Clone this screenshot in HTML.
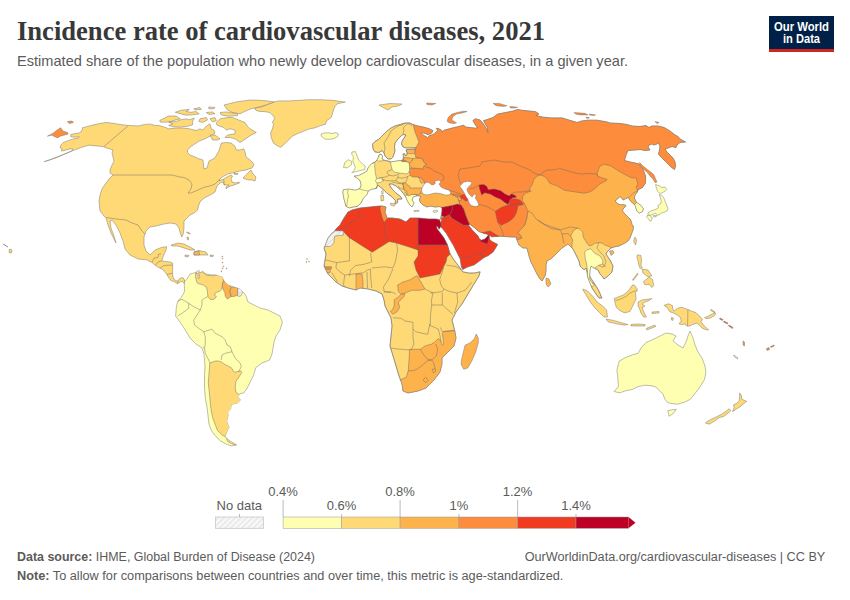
<!DOCTYPE html>
<html><head><meta charset="utf-8"><title>Incidence rate of cardiovascular diseases, 2021</title>
<style>
html,body{margin:0;padding:0;background:#fff;}
body{width:850px;height:600px;overflow:hidden;}
svg{display:block;}
.t{font-family:"Liberation Serif",serif;font-weight:bold;font-size:27px;fill:#383838;}
.st{font-family:"Liberation Sans",sans-serif;font-size:15px;fill:#5b5b5b;}
.lg{font-family:"Liberation Sans",sans-serif;font-size:13px;fill:#5b5b5b;}
.ft{font-family:"Liberation Sans",sans-serif;font-size:12.5px;fill:#5b5b5b;}
.ft b, .ft .b{font-weight:bold;}
.logo{font-family:"Liberation Sans",sans-serif;font-weight:bold;font-size:12px;fill:#fff;}
</style></head>
<body>
<svg width="850" height="600" viewBox="0 0 850 600">
<defs><pattern id="hatch2" width="4" height="4" patternUnits="userSpaceOnUse" patternTransform="rotate(45)"><rect width="4" height="4" fill="#f7f7f7"/><line x1="0" y1="0" x2="0" y2="4" stroke="#d4d4d4" stroke-width="1.2"/></pattern></defs>
<rect width="850" height="600" fill="#fff"/>
<text x="17" y="40.4" class="t" textLength="528" lengthAdjust="spacingAndGlyphs">Incidence rate of cardiovascular diseases, 2021</text>
<text x="17" y="66.2" class="st" textLength="611" lengthAdjust="spacingAndGlyphs">Estimated share of the population who newly develop cardiovascular diseases, in a given year.</text>
<rect x="769" y="16" width="65" height="36" fill="#002147"/>
<rect x="769" y="49" width="65" height="3" fill="#ce261e"/>
<text x="801.5" y="30.6" text-anchor="middle" class="logo" textLength="55" lengthAdjust="spacingAndGlyphs">Our World</text>
<text x="801.5" y="42.6" text-anchor="middle" class="logo" textLength="37" lengthAdjust="spacingAndGlyphs">in Data</text>
<g id="map">
<defs>
<clipPath id="cafe"><polygon points="353,207 349.4,207.9 345.9,206.2 344.7,201.5 343.5,196.8 342.9,192.1 343.5,189.7 349.4,189.1 355.3,190.3 360,188.5 361.2,185 360,180.3 357.6,178.5 354.1,176.2 358.8,175.6 363.5,173.2 367,171 368,168 370,165.5 372,163.5 375,162 377,160 378.5,157 379,155 381,154 382.5,156 382,159 385,160.5 388,161 391,162 397,161 401,160.5 403,160 403.5,157 403,154 404.5,153.5 405.5,155.5 407,155 407,152.5 406,150.2 407,149.5 411,149.3 416,149 416,147.8 410,147.8 406,148 403,147 401.5,144 402,141 404,138 406,135 403,134.5 401,136 398,139 395,143 394.5,147 395,151 394,154 393,157 391,159 388,159 385,156 384,153 382,150.5 379,152.5 375,152 373,149 372.5,144 375,141.5 379,139 383,135 387,131 391,128 395,126 400,124.5 405,123 410,123 413,124.5 417.6,125.9 423.5,127.1 429.4,128.8 432.9,130.6 431.8,132.9 428.2,134.7 425.3,133.5 421.2,132.4 421.8,134.1 424.7,135.9 427.6,137.6 430,135.3 432.9,134.7 435.3,132.9 437.6,130.6 436.5,128.2 438.8,128.8 441.2,130 441.8,131.8 444.7,130 449.4,128.8 454.1,127.6 458.8,126.5 463.5,125.3 465.9,127.1 470.6,127.6 475.3,128.2 477.6,127.6 475.3,124.7 472.9,120.6 475.3,118.8 480,120 482.4,122.4 484.7,125.9 487.1,130.6 488.2,132.9 487.1,127.1 483.5,120.6 485.9,120 489.4,118.8 492.9,117.6 494.6,116.4 497.6,114.1 505.3,112.6 512.9,111.1 517.5,109.5 522.1,110.3 529.8,111.1 535.9,111.8 538.9,114.1 535.9,115.6 543.5,117.2 551.2,117.9 557.3,117.9 561.9,117.9 569.5,120.2 577.2,122.5 581.7,121 587.9,120.2 597,120.2 606.2,121.8 610,123 620,123.5 627,124.5 632,126 640,126.5 646,125.5 649,127.5 652,126 658,126 664,127.5 670,131 675,135 678,136.5 680,139 685.5,142 680,142.5 677,145 676,147.5 672,146.5 668,148 665,149 667,152 670,155 673,158 675,162 675.5,166 674.5,169.5 671,167 667,163 663,159 660,156 658.5,154 659.5,150 660,146 658,142.5 657,144 654,145 652,144 649,145 648,147 650,150 645,150.5 640,149.5 635,150 628,150.5 626,155 624.5,160.5 630,162 635,163 639,164 642,168 644,172 645.5,176 645.5,181 645.5,183 642.5,187.5 638,189.8 637.3,192 635,195 634.3,198 635.8,201 636.5,202.5 641,205.5 643.3,208.5 642.5,211.5 639.5,213 637.3,211.5 635.8,207.8 635,204.8 632.8,203.3 630.5,201 629,198.8 628.3,197.3 626,198.5 623,200 622,198 620,196.5 617.5,199 615,201 618,204 621,205 623,204.5 626,205.5 625,207 623,209 622.5,211 624,213 626,215 628,217 630,219 631.5,222 632,225 633.5,226 633,230 631.5,234 630,238 628,241 625,243 622,244.5 619,246 616,246.5 614,247 611,248 610,249 607,252 606,254 610,260 613,266 612,272 608,276 604,279 602,276 600,274 598,270 594,268 591,266 590,270 589.6,276 592,280 596,286 599,291 601,296 602,298 599,298 596,294 592,288 589.6,282 588,278 587,272 586,268 584,270 580,266 579,261 576,255 573,249 572,248 570,246 568,244 565,246 562,248 559,251 556,254 552,258 547,261 546,265 546,271 545,276 542,281 540,279 537,274 534,268 531,262 529,256 528,252 527,248 523,248 519,245 517,240 516,237 512,237 509.3,236.8 500,236.2 491.8,236.8 488.3,234.5 483.6,233.3 479,231.6 474.3,227.5 469.6,224 468.5,225.2 472,229.8 476.6,234.5 478,236 479,238.5 481.3,240.3 484.8,239.2 487.1,236.8 488.9,234.5 489.5,239.2 491.8,241.5 497.6,244.4 495.3,248.5 493,252 488.3,255.5 483.6,257.8 479,261.3 474.3,264.8 467.3,267.1 462.7,269.4 461.5,267.1 460.3,259 456.8,252 453.3,245 449.8,239.2 446.3,233.3 441.7,227.5 440.7,226.2 440,227.8 439,229.2 438.2,227 436.5,226 437,228.7 440.5,233.3 444,238 447.5,245 449.8,253.2 453.3,259 456.8,263.7 460.3,268.3 462.7,271.8 468.5,273 474.3,273 480.1,271.8 479,276 474,284 468,294 462,304 456,312 452,320 453,324 455,332 456,338 454,346 448,352 442,358 442,364 440,372 434,380 426,388 418,391 408,393 403,391 402,384 399,376 396,366 393,356 390,346 391,336 392,326 391,318 388,312 385,306 384,300 382,294 376,291 368,289 360,288 356,290 348,288 342,286 336,282 332,278 328,274 326,270 324,266 325,260 326,254 324,248 325,246 328,238 332,233 334,232 336,229 340,225 344,218 348,212 352,210 360,208 370,207 380,206 382,206 386,207 385,212 387,218 392,218 400,219 406,222 410,218 418,218 428,219 436,219 440,220 441,217 441.5,214 442,211 442,208 440,206.5 435,207 430,206 427,207 423,205 420,202 419.5,199 421,196.5 418,195.5 416,196 413,197 412,200 414,203 412,207 410,205 408,202 406.5,199 406,197 405,196 403,193 400,189.5 396,186 392,184 389,184 392,189 396,193 400,196 401.2,197.4 402,199 400,199.1 397.6,199.1 397.6,202.6 395.3,203.8 395.3,200.3 391.8,196.8 387.1,193.2 383.5,189.7 380.6,187.4 377.6,185 376.5,188.5 371.8,189.1 368.2,190.9 367.1,194.4 363.5,197.9 361.2,202.6 357.6,206.2"/></clipPath>
<clipPath id="cland"><polygon points="353,207 349.4,207.9 345.9,206.2 344.7,201.5 343.5,196.8 342.9,192.1 343.5,189.7 349.4,189.1 355.3,190.3 360,188.5 361.2,185 360,180.3 357.6,178.5 354.1,176.2 358.8,175.6 363.5,173.2 367,171 368,168 370,165.5 372,163.5 375,162 377,160 378.5,157 379,155 381,154 382.5,156 382,159 385,160.5 388,161 391,162 397,161 401,160.5 403,160 403.5,157 403,154 404.5,153.5 405.5,155.5 407,155 407,152.5 406,150.2 407,149.5 411,149.3 416,149 416,147.8 410,147.8 406,148 403,147 401.5,144 402,141 404,138 406,135 403,134.5 401,136 398,139 395,143 394.5,147 395,151 394,154 393,157 391,159 388,159 385,156 384,153 382,150.5 379,152.5 375,152 373,149 372.5,144 375,141.5 379,139 383,135 387,131 391,128 395,126 400,124.5 405,123 410,123 413,124.5 417.6,125.9 423.5,127.1 429.4,128.8 432.9,130.6 431.8,132.9 428.2,134.7 425.3,133.5 421.2,132.4 421.8,134.1 424.7,135.9 427.6,137.6 430,135.3 432.9,134.7 435.3,132.9 437.6,130.6 436.5,128.2 438.8,128.8 441.2,130 441.8,131.8 444.7,130 449.4,128.8 454.1,127.6 458.8,126.5 463.5,125.3 465.9,127.1 470.6,127.6 475.3,128.2 477.6,127.6 475.3,124.7 472.9,120.6 475.3,118.8 480,120 482.4,122.4 484.7,125.9 487.1,130.6 488.2,132.9 487.1,127.1 483.5,120.6 485.9,120 489.4,118.8 492.9,117.6 494.6,116.4 497.6,114.1 505.3,112.6 512.9,111.1 517.5,109.5 522.1,110.3 529.8,111.1 535.9,111.8 538.9,114.1 535.9,115.6 543.5,117.2 551.2,117.9 557.3,117.9 561.9,117.9 569.5,120.2 577.2,122.5 581.7,121 587.9,120.2 597,120.2 606.2,121.8 610,123 620,123.5 627,124.5 632,126 640,126.5 646,125.5 649,127.5 652,126 658,126 664,127.5 670,131 675,135 678,136.5 680,139 685.5,142 680,142.5 677,145 676,147.5 672,146.5 668,148 665,149 667,152 670,155 673,158 675,162 675.5,166 674.5,169.5 671,167 667,163 663,159 660,156 658.5,154 659.5,150 660,146 658,142.5 657,144 654,145 652,144 649,145 648,147 650,150 645,150.5 640,149.5 635,150 628,150.5 626,155 624.5,160.5 630,162 635,163 639,164 642,168 644,172 645.5,176 645.5,181 645.5,183 642.5,187.5 638,189.8 637.3,192 635,195 634.3,198 635.8,201 636.5,202.5 641,205.5 643.3,208.5 642.5,211.5 639.5,213 637.3,211.5 635.8,207.8 635,204.8 632.8,203.3 630.5,201 629,198.8 628.3,197.3 626,198.5 623,200 622,198 620,196.5 617.5,199 615,201 618,204 621,205 623,204.5 626,205.5 625,207 623,209 622.5,211 624,213 626,215 628,217 630,219 631.5,222 632,225 633.5,226 633,230 631.5,234 630,238 628,241 625,243 622,244.5 619,246 616,246.5 614,247 611,248 610,249 607,252 606,254 610,260 613,266 612,272 608,276 604,279 602,276 600,274 598,270 594,268 591,266 590,270 589.6,276 592,280 596,286 599,291 601,296 602,298 599,298 596,294 592,288 589.6,282 588,278 587,272 586,268 584,270 580,266 579,261 576,255 573,249 572,248 570,246 568,244 565,246 562,248 559,251 556,254 552,258 547,261 546,265 546,271 545,276 542,281 540,279 537,274 534,268 531,262 529,256 528,252 527,248 523,248 519,245 517,240 516,237 512,237 509.3,236.8 500,236.2 491.8,236.8 488.3,234.5 483.6,233.3 479,231.6 474.3,227.5 469.6,224 468.5,225.2 472,229.8 476.6,234.5 478,236 479,238.5 481.3,240.3 484.8,239.2 487.1,236.8 488.9,234.5 489.5,239.2 491.8,241.5 497.6,244.4 495.3,248.5 493,252 488.3,255.5 483.6,257.8 479,261.3 474.3,264.8 467.3,267.1 462.7,269.4 461.5,267.1 460.3,259 456.8,252 453.3,245 449.8,239.2 446.3,233.3 441.7,227.5 440.7,226.2 440,227.8 439,229.2 438.2,227 436.5,226 437,228.7 440.5,233.3 444,238 447.5,245 449.8,253.2 453.3,259 456.8,263.7 460.3,268.3 462.7,271.8 468.5,273 474.3,273 480.1,271.8 479,276 474,284 468,294 462,304 456,312 452,320 453,324 455,332 456,338 454,346 448,352 442,358 442,364 440,372 434,380 426,388 418,391 408,393 403,391 402,384 399,376 396,366 393,356 390,346 391,336 392,326 391,318 388,312 385,306 384,300 382,294 376,291 368,289 360,288 356,290 348,288 342,286 336,282 332,278 328,274 326,270 324,266 325,260 326,254 324,248 325,246 328,238 332,233 334,232 336,229 340,225 344,218 348,212 352,210 360,208 370,207 380,206 382,206 386,207 385,212 387,218 392,218 400,219 406,222 410,218 418,218 428,219 436,219 440,220 441,217 441.5,214 442,211 442,208 440,206.5 435,207 430,206 427,207 423,205 420,202 419.5,199 421,196.5 418,195.5 416,196 413,197 412,200 414,203 412,207 410,205 408,202 406.5,199 406,197 405,196 403,193 400,189.5 396,186 392,184 389,184 392,189 396,193 400,196 401.2,197.4 402,199 400,199.1 397.6,199.1 397.6,202.6 395.3,203.8 395.3,200.3 391.8,196.8 387.1,193.2 383.5,189.7 380.6,187.4 377.6,185 376.5,188.5 371.8,189.1 368.2,190.9 367.1,194.4 363.5,197.9 361.2,202.6 357.6,206.2"/><polygon points="44.2,161.6 50.6,159.5 61.2,155.3 71.8,151 72.8,148.9 69.7,148.9 64.4,150.5 61.2,151 62.2,148.9 60.1,147.8 60.7,145.2 63.3,142.5 68.6,140.4 73.9,138.8 78.1,138.3 79.2,136.7 75,137.2 70.7,136.7 70.7,134.6 75,133.5 79.2,133 80.8,132 82.4,129.3 82.4,127.7 86.6,126.7 93,125.1 99.3,123.5 106.7,122.4 114.2,123.5 120.5,124.5 128,125.4 138.2,125.9 146.5,124.2 151.4,124.2 154.7,125.5 158.8,125.5 164.6,127.1 168.7,128.8 176.1,128 182.7,128 189.3,128.8 196.3,130.6 200,128.8 202.5,130 206.3,126.3 210,123.8 211.3,128.8 213.8,130 215,133.1 211.3,135.6 205,138.8 198.8,141.3 191.3,146.3 187.5,150 187.5,152.5 190,155 195,156.9 198.8,158.8 203,160 204,169 207,168 209,161 215,158 217,154 218.8,151.3 220,147.5 221.3,143.1 226.3,142.5 231.3,143.1 235,146.3 236.3,150 240,150 243.8,148.8 245,152 246,157 250,160 253,163 254,165 252,168 246,170 240,171 234,172.5 228,174 222,177 219,180 222,180 227,177 231,175 232.5,176 231,179 232,182 236,183 239,182 239.5,183 234,185 228,187 226,189 226,187 229,185 224,185 223,182 220,183 217,186 215,192 212,194 208,196 204,198 200,202 198.5,206 197.5,210 194,213 190,215 184,221 184,227 183.5,233 181.8,237 180.5,234 179,228 176,224 170,223 164,224 156,226 150,227 146,231 144,237 144,245 146,251 150,255 155.2,250 161.7,247.3 166.6,246.7 166.1,250 164.5,253.3 162.8,257.6 161.7,260.9 165,261.4 170.4,262 172.6,263 172.6,272 172.7,276 174,279.3 176,280.7 178,281 179.3,278.7 181.3,277.7 183.3,278 184.3,279.7 184.7,281.3 184,283.3 182.3,281.7 180.7,281.3 179,283 177.3,283.7 175.3,282.3 173.3,281.3 171.3,280.7 170,279.7 167.2,275 165.5,272.8 162.8,269.6 158.5,267.4 155.2,265.2 152,262.5 146.5,259.8 138,259 130,255 125,249 123,241 120,233 116,225 112,220 110,221 111,228 114,236 116,243 115,241 111,233 108,225 106,218 104,216 100,211 99,201 100,195 102,189 106,183 109,179 113,175 110,173 110,170 112,165 114,161 113,157 112,153.1 113.1,150 109.9,148.9 105.7,147.8 103.6,146.8 99.3,146.2 94,145.7 88.7,145.2 80.3,147.8 70.7,151.5 64.4,154.2 55.9,157.9 46.4,161.1"/><polygon points="184.7,281.3 186.7,279.3 189.3,275.3 190,274 192.7,273.3 195.3,272.7 198,270.7 199.3,270.7 199,273 200,272.7 202.7,271.3 206,274 210,274.7 216,275 222,277 224,281 228,285 234,287 240,289 244,293 246,296 248,302 254,305 260,308 268,310 274,313 280,316 282.4,322 280,330 276,336 274,342 272,354 269.6,360 262,363 255.8,367.7 253.5,375.3 249.7,383 246.7,389 243.6,393 239.8,393.7 237.5,396.8 240.5,399.9 237.5,403 231.3,404.5 230.6,409 227.5,412 228.3,415 226.7,421 229,427.5 226.7,432 225.2,436.7 228.3,439.7 232.9,442.8 236.7,445 231.3,445.8 226.7,444.3 220.6,441 216,436.7 211.4,430.5 209,424.4 208.3,418.3 207.6,412 206.8,406 205.3,398.3 204.5,387.6 204.5,375.3 205,366 204,354 202,348 196,344 190,338 184,328 180,322 175.6,316 176.3,308 176.7,305.3 178,300.7 180,299.3 182,296 184,292.7 184.7,290 184.3,285.3"/></clipPath>
<clipPath id="csa"><polygon points="184.7,281.3 186.7,279.3 189.3,275.3 190,274 192.7,273.3 195.3,272.7 198,270.7 199.3,270.7 199,273 200,272.7 202.7,271.3 206,274 210,274.7 216,275 222,277 224,281 228,285 234,287 240,289 244,293 246,296 248,302 254,305 260,308 268,310 274,313 280,316 282.4,322 280,330 276,336 274,342 272,354 269.6,360 262,363 255.8,367.7 253.5,375.3 249.7,383 246.7,389 243.6,393 239.8,393.7 237.5,396.8 240.5,399.9 237.5,403 231.3,404.5 230.6,409 227.5,412 228.3,415 226.7,421 229,427.5 226.7,432 225.2,436.7 228.3,439.7 232.9,442.8 236.7,445 231.3,445.8 226.7,444.3 220.6,441 216,436.7 211.4,430.5 209,424.4 208.3,418.3 207.6,412 206.8,406 205.3,398.3 204.5,387.6 204.5,375.3 205,366 204,354 202,348 196,344 190,338 184,328 180,322 175.6,316 176.3,308 176.7,305.3 178,300.7 180,299.3 182,296 184,292.7 184.7,290 184.3,285.3"/></clipPath>
<pattern id="hatch" width="4" height="4" patternUnits="userSpaceOnUse" patternTransform="rotate(45)"><rect width="4" height="4" fill="#f2f2f2"/><line x1="0" y1="0" x2="0" y2="4" stroke="#d9d9d9" stroke-width="1.5"/></pattern>
</defs>
<polygon points="44.2,161.6 50.6,159.5 61.2,155.3 71.8,151 72.8,148.9 69.7,148.9 64.4,150.5 61.2,151 62.2,148.9 60.1,147.8 60.7,145.2 63.3,142.5 68.6,140.4 73.9,138.8 78.1,138.3 79.2,136.7 75,137.2 70.7,136.7 70.7,134.6 75,133.5 79.2,133 80.8,132 82.4,129.3 82.4,127.7 86.6,126.7 93,125.1 99.3,123.5 106.7,122.4 114.2,123.5 120.5,124.5 128,125.4 138.2,125.9 146.5,124.2 151.4,124.2 154.7,125.5 158.8,125.5 164.6,127.1 168.7,128.8 176.1,128 182.7,128 189.3,128.8 196.3,130.6 200,128.8 202.5,130 206.3,126.3 210,123.8 211.3,128.8 213.8,130 215,133.1 211.3,135.6 205,138.8 198.8,141.3 191.3,146.3 187.5,150 187.5,152.5 190,155 195,156.9 198.8,158.8 203,160 204,169 207,168 209,161 215,158 217,154 218.8,151.3 220,147.5 221.3,143.1 226.3,142.5 231.3,143.1 235,146.3 236.3,150 240,150 243.8,148.8 245,152 246,157 250,160 253,163 254,165 252,168 246,170 240,171 234,172.5 228,174 222,177 219,180 222,180 227,177 231,175 232.5,176 231,179 232,182 236,183 239,182 239.5,183 234,185 228,187 226,189 226,187 229,185 224,185 223,182 220,183 217,186 215,192 212,194 208,196 204,198 200,202 198.5,206 197.5,210 194,213 190,215 184,221 184,227 183.5,233 181.8,237 180.5,234 179,228 176,224 170,223 164,224 156,226 150,227 146,231 144,237 144,245 146,251 150,255 155.2,250 161.7,247.3 166.6,246.7 166.1,250 164.5,253.3 162.8,257.6 161.7,260.9 165,261.4 170.4,262 172.6,263 172.6,272 172.7,276 174,279.3 176,280.7 178,281 179.3,278.7 181.3,277.7 183.3,278 184.3,279.7 184.7,281.3 184,283.3 182.3,281.7 180.7,281.3 179,283 177.3,283.7 175.3,282.3 173.3,281.3 171.3,280.7 170,279.7 167.2,275 165.5,272.8 162.8,269.6 158.5,267.4 155.2,265.2 152,262.5 146.5,259.8 138,259 130,255 125,249 123,241 120,233 116,225 112,220 110,221 111,228 114,236 116,243 115,241 111,233 108,225 106,218 104,216 100,211 99,201 100,195 102,189 106,183 109,179 113,175 110,173 110,170 112,165 114,161 113,157 112,153.1 113.1,150 109.9,148.9 105.7,147.8 103.6,146.8 99.3,146.2 94,145.7 88.7,145.2 80.3,147.8 70.7,151.5 64.4,154.2 55.9,157.9 46.4,161.1" fill="#fed976" stroke="#6b6b6b" stroke-width="0.45" stroke-linejoin="round"/>
<polygon points="254.7,107.9 261.8,106.8 267.6,104.4 273.5,102.1 278.2,100.9 288.8,100.9 299.4,100.3 308.8,99.7 320.6,99.7 332.4,100.3 345.3,102.1 337.1,103.8 334.7,106.8 333.5,110.3 332.4,113.8 331.2,117.4 326.5,120.9 325.3,124.4 320.6,125.6 314.7,127.9 308.8,129.1 302.9,131.5 297.1,133.8 292.4,136.2 287.6,140.9 284.1,144.4 280.6,147.4 277.1,145.6 273.5,143.2 271.2,137.4 270.6,132.6 272.4,129.1 273.5,124.4 272.4,122.1 274.7,118.5 273.5,116.2 270,112.6 264.1,111.5 259.4,111.5 255.9,110.3" fill="#fed976" stroke="#6b6b6b" stroke-width="0.45" stroke-linejoin="round"/>
<polygon points="216.3,122.5 220,118.8 227.5,117.5 232.5,117.5 238.8,120 245,122.5 247.5,126.3 250,128.8 256.3,132.5 251.3,135 247.5,137.5 243.8,140 240,142.5 235,138.8 230,137.5 225,137.5 227.5,135 235,133.8 235,130 230,128.8 226.3,130 223.8,127.5 220,126.3 216.9,125" fill="#fed976" stroke="#6b6b6b" stroke-width="0.45" stroke-linejoin="round"/>
<polygon points="210,135 215,135 220,138.8 217.5,140 212.5,140" fill="#fed976" stroke="#6b6b6b" stroke-width="0.45" stroke-linejoin="round"/>
<polygon points="224,105 236,102 250,100 260,100.3 268,101 274,102 266,105 257,107.5 251.3,108.8 245,111.3 240,113.8 232.5,112.5 227.5,110" fill="#fed976" stroke="#6b6b6b" stroke-width="0.45" stroke-linejoin="round"/>
<polygon points="220,112.5 226.3,111.9 237.5,113.8 237.5,115.6 228.8,116.3 221.3,115" fill="#fed976" stroke="#6b6b6b" stroke-width="0.45" stroke-linejoin="round"/>
<polygon points="175.3,112.3 181.1,110.2 189.3,109.4 186,111.5 191,112.3 195.9,111.5 199.2,113.9 192.6,114.8 186,115.2 181.1,113.9" fill="#fed976" stroke="#6b6b6b" stroke-width="0.45" stroke-linejoin="round"/>
<polygon points="193.8,108.8 200,107.5 201.3,109.4 195,110" fill="#fed976" stroke="#6b6b6b" stroke-width="0.45" stroke-linejoin="round"/>
<polygon points="206.3,112.5 212.5,111.9 215,113.8 208.8,114.4" fill="#fed976" stroke="#6b6b6b" stroke-width="0.45" stroke-linejoin="round"/>
<polygon points="208.8,106.9 215,107.5 213.8,108.8 208.8,108.8" fill="#fed976" stroke="#6b6b6b" stroke-width="0.45" stroke-linejoin="round"/>
<polygon points="159.7,120.5 164.6,118.1 168.7,116 176.1,116 180.2,118.9 176.1,119.7 171.2,121.4 165.4,122.2 160.5,122.2" fill="#fed976" stroke="#6b6b6b" stroke-width="0.45" stroke-linejoin="round"/>
<polygon points="168.7,122.2 176.1,121.4 181.1,119.7 186,118.9 189.3,119.7 194.3,118.1 192.6,121.4 192.6,124.7 187.7,126.3 179.4,127.1 172.8,126.7 168.7,125.5 172.8,123.8" fill="#fed976" stroke="#6b6b6b" stroke-width="0.45" stroke-linejoin="round"/>
<polygon points="200,118.8 206.3,117.5 207.5,120 202.5,122.5 198.8,121.3" fill="#fed976" stroke="#6b6b6b" stroke-width="0.45" stroke-linejoin="round"/>
<polygon points="210,118.8 215,117.5 216.3,120.6 212.5,121.9" fill="#fed976" stroke="#6b6b6b" stroke-width="0.45" stroke-linejoin="round"/>
<polygon points="243,178 248,173 251,170 253,174 256,177 255,181 252,180 249,180 245,179" fill="#fed976" stroke="#6b6b6b" stroke-width="0.45" stroke-linejoin="round"/>
<polygon points="234,173 238,173.5 237.5,174.5 234,174.2" fill="#fed976" stroke="#6b6b6b" stroke-width="0.45" stroke-linejoin="round"/>
<polygon points="321,134 324,133 328,132.8 332,133.5 336,132.6 338.5,134 337.5,136.5 334,138.5 330,139.3 325.5,139.2 323,137.5 321.5,136.5" fill="#ffffb2" stroke="#6b6b6b" stroke-width="0.45" stroke-linejoin="round"/>
<polygon points="186.5,232 189,232.5 190.5,234 188,233.5" fill="#fed976" stroke="#6b6b6b" stroke-width="0.45" stroke-linejoin="round"/>
<polygon points="187,237 188.5,237.5 188.5,240 187.2,239.5" fill="#fed976" stroke="#6b6b6b" stroke-width="0.45" stroke-linejoin="round"/>
<polygon points="171,245 178,243 184,244 190,247 195,250 190,250 184,248 178,246 172,246" fill="#fed976" stroke="#6b6b6b" stroke-width="0.45" stroke-linejoin="round"/>
<polygon points="194,252 199,250.6 206,252 208,255 202,255 194,255" fill="#fed976" stroke="#6b6b6b" stroke-width="0.45" stroke-linejoin="round"/>
<polygon points="185,255 189,255.5 188,257 185,256.5" fill="#fed976" stroke="#6b6b6b" stroke-width="0.45" stroke-linejoin="round"/>
<polygon points="210,255 213.5,255.3 213,256.5 210,256.3" fill="#fed976" stroke="#6b6b6b" stroke-width="0.45" stroke-linejoin="round"/>
<polygon points="9.5,249 12,250 11.5,253 9,252.5" fill="#fed976" stroke="#6b6b6b" stroke-width="0.45" stroke-linejoin="round"/>
<polygon points="3,244 5,245 6,246 8,247" fill="#fed976" stroke="#6b6b6b" stroke-width="0.45" stroke-linejoin="round"/>
<polygon points="194,252 199,250.6 199.5,255 194,255" fill="#feb24c" stroke="#6b6b6b" stroke-width="0.45" stroke-linejoin="round"/>
<polygon points="47.4,136.2 52.7,133.5 55.9,130.9 60.7,127.7 62.8,130.9 67.5,132.5 68.1,134.1 64.4,135.1 60.1,136.2 58,137.8 55.9,137.2 51.7,135.1" fill="#fd8d3c" stroke="#6b6b6b" stroke-width="0.45" stroke-linejoin="round"/>
<polygon points="67.5,121.5 72,121 73.5,122.5 69,123.5" fill="#fd8d3c" stroke="#6b6b6b" stroke-width="0.45" stroke-linejoin="round"/>
<polygon points="184.7,281.3 186.7,279.3 189.3,275.3 190,274 192.7,273.3 195.3,272.7 198,270.7 199.3,270.7 199,273 200,272.7 202.7,271.3 206,274 210,274.7 216,275 222,277 224,281 228,285 234,287 240,289 244,293 246,296 248,302 254,305 260,308 268,310 274,313 280,316 282.4,322 280,330 276,336 274,342 272,354 269.6,360 262,363 255.8,367.7 253.5,375.3 249.7,383 246.7,389 243.6,393 239.8,393.7 237.5,396.8 240.5,399.9 237.5,403 231.3,404.5 230.6,409 227.5,412 228.3,415 226.7,421 229,427.5 226.7,432 225.2,436.7 228.3,439.7 232.9,442.8 236.7,445 231.3,445.8 226.7,444.3 220.6,441 216,436.7 211.4,430.5 209,424.4 208.3,418.3 207.6,412 206.8,406 205.3,398.3 204.5,387.6 204.5,375.3 205,366 204,354 202,348 196,344 190,338 184,328 180,322 175.6,316 176.3,308 176.7,305.3 178,300.7 180,299.3 182,296 184,292.7 184.7,290 184.3,285.3" fill="#ffffb2" stroke="#6b6b6b" stroke-width="0.45" stroke-linejoin="round"/>
<g clip-path="url(#csa)">
<polygon points="196.3,273.8 202.1,271.9 206.7,275.1 211.8,275.8 217,275.1 222.2,275.1 223.5,280.3 222.2,286.8 221.5,289.4 219.6,291.3 215.7,292.6 214.4,295.2 216.4,296.5 214.4,299.1 210.5,299.7 207.9,296.5 207.3,291.3 206.7,287.4 202.8,284.8 197.6,283.5 196.3,280.9 195.5,276 196,270" fill="#fed976" stroke="#666" stroke-width="0.45" stroke-linejoin="round"/>
<polygon points="223.5,280.9 228.7,283.5 231.2,287.4 229.3,290.7 231.2,296.5 227.4,299.1 225.4,296.5 224.8,292.6 222.8,288.7 222.2,284.8" fill="#feb24c" stroke="#666" stroke-width="0.45" stroke-linejoin="round"/>
<polygon points="231.2,287.4 237.7,287.4 237.7,295.2 233.8,296.5 231.2,296.5 230,291.3" fill="#feb24c" stroke="#666" stroke-width="0.45" stroke-linejoin="round"/>
<polygon points="237.7,287.4 240.3,288.1 242.9,291.3 241,295.8 238.4,296.5 237.7,295.2" fill="url(#hatch)" stroke="#666" stroke-width="0.45" stroke-linejoin="round"/>
<polygon points="209.9,363 216,360.8 220.6,361.5 225.2,364.6 231.3,367.7 234.4,372.3 240.5,370.7 242,372.3 239,376.9 235.9,381.5 235.2,387.6 235.9,392.2 239.8,395.3 245,400 240,420 235,440 226,437 222.1,435 217.5,430.5 215.2,424.4 212.9,418.3 211.4,412 210.6,406 209.9,398.3 209.1,390.7 208.3,383 209.1,372.3" fill="#fed976" stroke="#666" stroke-width="0.45" stroke-linejoin="round"/>
<polygon points="226.7,438.2 231.3,441.3 238,446 231.3,443.5 227.5,441.3" fill="#fed976" stroke="#666" stroke-width="0.45" stroke-linejoin="round"/>
</g>
<polygon points="198,275 199.5,274.7 199.7,278 198.2,278.5" fill="#ffffff" stroke="#6b6b6b" stroke-width="0.45" stroke-linejoin="round"/>
<polygon points="353,207 349.4,207.9 345.9,206.2 344.7,201.5 343.5,196.8 342.9,192.1 343.5,189.7 349.4,189.1 355.3,190.3 360,188.5 361.2,185 360,180.3 357.6,178.5 354.1,176.2 358.8,175.6 363.5,173.2 367,171 368,168 370,165.5 372,163.5 375,162 377,160 378.5,157 379,155 381,154 382.5,156 382,159 385,160.5 388,161 391,162 397,161 401,160.5 403,160 403.5,157 403,154 404.5,153.5 405.5,155.5 407,155 407,152.5 406,150.2 407,149.5 411,149.3 416,149 416,147.8 410,147.8 406,148 403,147 401.5,144 402,141 404,138 406,135 403,134.5 401,136 398,139 395,143 394.5,147 395,151 394,154 393,157 391,159 388,159 385,156 384,153 382,150.5 379,152.5 375,152 373,149 372.5,144 375,141.5 379,139 383,135 387,131 391,128 395,126 400,124.5 405,123 410,123 413,124.5 417.6,125.9 423.5,127.1 429.4,128.8 432.9,130.6 431.8,132.9 428.2,134.7 425.3,133.5 421.2,132.4 421.8,134.1 424.7,135.9 427.6,137.6 430,135.3 432.9,134.7 435.3,132.9 437.6,130.6 436.5,128.2 438.8,128.8 441.2,130 441.8,131.8 444.7,130 449.4,128.8 454.1,127.6 458.8,126.5 463.5,125.3 465.9,127.1 470.6,127.6 475.3,128.2 477.6,127.6 475.3,124.7 472.9,120.6 475.3,118.8 480,120 482.4,122.4 484.7,125.9 487.1,130.6 488.2,132.9 487.1,127.1 483.5,120.6 485.9,120 489.4,118.8 492.9,117.6 494.6,116.4 497.6,114.1 505.3,112.6 512.9,111.1 517.5,109.5 522.1,110.3 529.8,111.1 535.9,111.8 538.9,114.1 535.9,115.6 543.5,117.2 551.2,117.9 557.3,117.9 561.9,117.9 569.5,120.2 577.2,122.5 581.7,121 587.9,120.2 597,120.2 606.2,121.8 610,123 620,123.5 627,124.5 632,126 640,126.5 646,125.5 649,127.5 652,126 658,126 664,127.5 670,131 675,135 678,136.5 680,139 685.5,142 680,142.5 677,145 676,147.5 672,146.5 668,148 665,149 667,152 670,155 673,158 675,162 675.5,166 674.5,169.5 671,167 667,163 663,159 660,156 658.5,154 659.5,150 660,146 658,142.5 657,144 654,145 652,144 649,145 648,147 650,150 645,150.5 640,149.5 635,150 628,150.5 626,155 624.5,160.5 630,162 635,163 639,164 642,168 644,172 645.5,176 645.5,181 645.5,183 642.5,187.5 638,189.8 637.3,192 635,195 634.3,198 635.8,201 636.5,202.5 641,205.5 643.3,208.5 642.5,211.5 639.5,213 637.3,211.5 635.8,207.8 635,204.8 632.8,203.3 630.5,201 629,198.8 628.3,197.3 626,198.5 623,200 622,198 620,196.5 617.5,199 615,201 618,204 621,205 623,204.5 626,205.5 625,207 623,209 622.5,211 624,213 626,215 628,217 630,219 631.5,222 632,225 633.5,226 633,230 631.5,234 630,238 628,241 625,243 622,244.5 619,246 616,246.5 614,247 611,248 610,249 607,252 606,254 610,260 613,266 612,272 608,276 604,279 602,276 600,274 598,270 594,268 591,266 590,270 589.6,276 592,280 596,286 599,291 601,296 602,298 599,298 596,294 592,288 589.6,282 588,278 587,272 586,268 584,270 580,266 579,261 576,255 573,249 572,248 570,246 568,244 565,246 562,248 559,251 556,254 552,258 547,261 546,265 546,271 545,276 542,281 540,279 537,274 534,268 531,262 529,256 528,252 527,248 523,248 519,245 517,240 516,237 512,237 509.3,236.8 500,236.2 491.8,236.8 488.3,234.5 483.6,233.3 479,231.6 474.3,227.5 469.6,224 468.5,225.2 472,229.8 476.6,234.5 478,236 479,238.5 481.3,240.3 484.8,239.2 487.1,236.8 488.9,234.5 489.5,239.2 491.8,241.5 497.6,244.4 495.3,248.5 493,252 488.3,255.5 483.6,257.8 479,261.3 474.3,264.8 467.3,267.1 462.7,269.4 461.5,267.1 460.3,259 456.8,252 453.3,245 449.8,239.2 446.3,233.3 441.7,227.5 440.7,226.2 440,227.8 439,229.2 438.2,227 436.5,226 437,228.7 440.5,233.3 444,238 447.5,245 449.8,253.2 453.3,259 456.8,263.7 460.3,268.3 462.7,271.8 468.5,273 474.3,273 480.1,271.8 479,276 474,284 468,294 462,304 456,312 452,320 453,324 455,332 456,338 454,346 448,352 442,358 442,364 440,372 434,380 426,388 418,391 408,393 403,391 402,384 399,376 396,366 393,356 390,346 391,336 392,326 391,318 388,312 385,306 384,300 382,294 376,291 368,289 360,288 356,290 348,288 342,286 336,282 332,278 328,274 326,270 324,266 325,260 326,254 324,248 325,246 328,238 332,233 334,232 336,229 340,225 344,218 348,212 352,210 360,208 370,207 380,206 382,206 386,207 385,212 387,218 392,218 400,219 406,222 410,218 418,218 428,219 436,219 440,220 441,217 441.5,214 442,211 442,208 440,206.5 435,207 430,206 427,207 423,205 420,202 419.5,199 421,196.5 418,195.5 416,196 413,197 412,200 414,203 412,207 410,205 408,202 406.5,199 406,197 405,196 403,193 400,189.5 396,186 392,184 389,184 392,189 396,193 400,196 401.2,197.4 402,199 400,199.1 397.6,199.1 397.6,202.6 395.3,203.8 395.3,200.3 391.8,196.8 387.1,193.2 383.5,189.7 380.6,187.4 377.6,185 376.5,188.5 371.8,189.1 368.2,190.9 367.1,194.4 363.5,197.9 361.2,202.6 357.6,206.2" fill="#fed976" stroke="#6b6b6b" stroke-width="0.45" stroke-linejoin="round"/>
<g clip-path="url(#cafe)">
<polygon points="412,95 413,124.5 414,128 415,132 417,137 419,142 416,147.5 415,149 414.8,151 414.8,153.6 415.7,157.2 418,158.2 422,158.5 423.8,162.1 426.5,164.4 423.8,166.2 422.9,168.9 417.5,168.4 412.1,168 409.4,168 409.5,172 410,175.5 413,177 418.4,177.1 421.2,178.1 424,181.3 425,187 440,192 447,193.5 451,194 455,196 458,198 459,202 460,205 463,207.6 465.9,215.9 468.8,222.9 470,226 480,245 505,245 517,240 522,238 521,236 518,232.5 520,230 525,225 527,218 528,212 540,200 600,200 700,180 700,95" fill="#fd8d3c" stroke="#666" stroke-width="0.45" stroke-linejoin="round"/>
<polygon points="401.3,160.3 406.3,160.5 406.7,161.7 401.8,161.7" fill="#fd8d3c" stroke="#666" stroke-width="0.45" stroke-linejoin="round"/>
<polygon points="539.9,174.9 544.5,176.4 547.5,179.5 549.8,183.3 556.7,185.6 564.4,190.2 573.5,191.7 584.2,193.2 590.4,191.7 595,188.6 599.5,184.1 605.7,181 607.2,179.5 602.6,177.9 598,176.4 597.2,173.4 599.5,166.5 604.1,164.2 610.2,165.7 616.4,169.5 624,174.1 631.7,177.9 636.2,177.9 637.8,184.1 636.2,187.1 637.8,190.9 639,192.5 645,196 650,215 640,245 612,248 608,246 605.3,245.3 602.7,243.3 598.7,242.7 594.7,243.3 592,245.3 589.3,246 586.7,242.7 583.3,237.3 582.7,232 580,229.3 577.3,228 573.3,230.7 570.7,236 572.7,240 572,244 572,252 560,300 530,295 512,245 517,240 522,238 521,236 518,232.5 520,230 525,225 527,218 528,211 524.7,204.1 522.4,200.6 522.4,197.1 524.7,193.5 530.6,191.2 529.4,188.8 531.8,185.3 534,179.4 536.8,176.4" fill="#feb24c" stroke="#666" stroke-width="0.45" stroke-linejoin="round"/>
<polygon points="634,205.2 636.5,202.5 638,202.5 644,205 645,212 640,214.5 636,212 633,208" fill="#ffffb2" stroke="#666" stroke-width="0.45" stroke-linejoin="round"/>
<polygon points="584.7,252 586.7,250 590.7,248.7 594.7,253.3 600,256 602.7,260 602.7,264 598.7,265.3 594.7,268 592,270.7 590.7,273.3 589.3,278.7 592,282.7 594.7,285.3 592,286.5 589.3,284 587,278 587.5,270.7 586.7,264 585.3,258.7" fill="#ffffb2" stroke="#666" stroke-width="0.45" stroke-linejoin="round"/>
<polygon points="479,184.9 483.7,184.4 486.9,186.5 488,189.7 494.3,189.1 500.7,190.7 504.9,193.9 509.2,196 511.3,193.9 514.4,195 516.6,197.1 512.3,198.1 510.2,200.2 508.1,204.5 504.9,202.4 500.7,199.2 495.4,197.1 490.1,193.9 484.8,192.8 481.6,194.9 480.6,191.8 479.5,188.6" fill="#bd0026" stroke="#666" stroke-width="0.45" stroke-linejoin="round"/>
<polygon points="509.4,199.4 515.3,198.8 520,200 523.5,204.1 521.2,205.3 516.5,204.1 512.9,205.3 509.4,204.7" fill="#f03b20" stroke="#666" stroke-width="0.45" stroke-linejoin="round"/>
<polygon points="495.3,211.2 501.2,207.6 507.1,205.3 512.9,204.7 516.5,204.1 521,204.3 518,206 517.6,207.6 516.5,212.4 514.1,217.1 510.6,220.6 505.9,222.9 501.2,225.3 497.6,221.8 496.5,217.1" fill="#f03b20" stroke="#666" stroke-width="0.45" stroke-linejoin="round"/>
<polygon points="459.9,196 462.5,194.4 465.7,195 468.4,197.1 470,199 467.8,200.2 465.7,201.3 463.6,199.2 461.5,198.7 460.4,197.6" fill="#f03b20" stroke="#666" stroke-width="0.45" stroke-linejoin="round"/>
<polygon points="457.8,196 460.4,197.6 461.5,200.2 458.8,200.8 457.2,198.7" fill="#feb24c" stroke="#666" stroke-width="0.45" stroke-linejoin="round"/>
<polygon points="419,193 423,193 427,194 431,193 435,192.5 440,193 445,194.5 449,194.5 451,194 455,196 458,198 459,202 460,205 458,206.5 453,206.5 447,207 442,207.5 440,212 428,212 417,206 416,198 416.5,195" fill="#feb24c" stroke="#666" stroke-width="0.45" stroke-linejoin="round"/>
<polygon points="452.9,205.3 457.6,204.1 461.2,205.3 463.5,208.8 465.9,215.9 468.8,222.9 470,225.3 468.2,225.3 463.5,225.3 457.6,221.8 451.8,218.2 449.4,214.7 451.8,211.2" fill="#bd0026" stroke="#666" stroke-width="0.45" stroke-linejoin="round"/>
<polygon points="441.2,207.6 447.1,206.5 452.9,205.3 451.8,211.2 449.4,214.7 444.7,217.1 441.8,216 441,212 437,210" fill="#bd0026" stroke="#666" stroke-width="0.45" stroke-linejoin="round"/>
<polygon points="440.6,218 444.7,217.1 449.4,214.7 451.8,218.2 457.6,221.8 463.5,225.3 468.2,225.3 470,225 480,233 490,231 505,240 500,258 470,267.8 462.6,269.8 461.2,265 459,262 454,250 447,236 440,226" fill="#f03b20" stroke="#666" stroke-width="0.45" stroke-linejoin="round"/>
<polygon points="479.5,241 484.8,238.5 487.5,235.5 489.5,235 488.3,240.3 487.1,243.8 483.6,242.6" fill="#bd0026" stroke="#666" stroke-width="0.45" stroke-linejoin="round"/>
<polygon points="439.5,216 441.2,216 441.5,220 440.5,224 439.5,222" fill="#ffffb2" stroke="#666" stroke-width="0.45" stroke-linejoin="round"/>
<polygon points="418,214 436,214 440.5,222 441,226 444,233 448,240 449,245 418,245" fill="#bd0026" stroke="#666" stroke-width="0.45" stroke-linejoin="round"/>
<polygon points="418,245 449,245 451,253.5 447,257 446,262 444,266 440,274 430,276 420,278 416,270 414,262 418,256" fill="#f03b20" stroke="#666" stroke-width="0.45" stroke-linejoin="round"/>
<polygon points="345,203 360,202 381,202 381,206 382,212 384,219 388,218 395,214 418,214 418,250 406,246 396.2,243 389.2,241.6 380.5,247 372.2,252.2 349,237.4 343.3,231.5 336,231 330,228 333,212" fill="#f03b20" stroke="#666" stroke-width="0.45" stroke-linejoin="round"/>
<polygon points="381,202 390,202 390,217 386.4,219.5 384.2,222.5 382.1,217.6 380.7,212 380,208.4" fill="#fd8d3c" stroke="#666" stroke-width="0.45" stroke-linejoin="round"/>
<polygon points="343.3,230.8 334,230.8 326,238 320,246.5 330,246.5 334,243 334,240.2 334.8,236 343.3,235.2" fill="url(#hatch)" stroke="#666" stroke-width="0.45" stroke-linejoin="round"/>
<polygon points="356,274 362,274 363,282 363,289 364,294 356,294 356,282" fill="#feb24c" stroke="#666" stroke-width="0.45" stroke-linejoin="round"/>
<polygon points="397.7,285 402.3,282.3 410.3,279.7 414.3,277 417,275.7 420.3,281 425,289 419.7,290.3 411.7,290.3 405,293 401,294.3 398.3,291.7" fill="#feb24c" stroke="#666" stroke-width="0.45" stroke-linejoin="round"/>
<polygon points="405,293.7 403.7,297 401,299.7 398.3,302.3 399.7,307.7 397,311.7 393,314.3 390.3,311.7 393,309 394.3,305 394.3,299.7 398.3,297 401,294.3" fill="#feb24c" stroke="#666" stroke-width="0.45" stroke-linejoin="round"/>
<polygon points="401,379.5 406.3,377.3 408.3,370.7 409,360 409.7,349.3 420.3,349.3 425,346 431.7,344 435.7,341.3 438.5,338.5 440.5,341 442.5,345.3 443.7,344 443,338 442.3,333.3 444,331.5 454.3,330.7 462,335 462,400 395,400" fill="#feb24c" stroke="#666" stroke-width="0.45" stroke-linejoin="round"/>
<polygon points="322,266.8 331.5,266.8 331.5,268.4 322,268.4" fill="#fd8d3c" stroke="#666" stroke-width="0.45" stroke-linejoin="round"/>
<polygon points="322,269.3 330.6,269.5 330,272.6 322,272.6" fill="#feb24c" stroke="#666" stroke-width="0.45" stroke-linejoin="round"/>
<polygon points="335,186 340,172 355,168 364,166 368,165 370,164 372,163.5 374.5,162.5 375,164 374.5,167 375,169 375.3,173.2 376,176 376.5,178.8 381.8,177.6 383.5,180.6 380.6,182.4 377,183 377,184.5 377.6,185 372,195 364,203 358,206.8 353.5,207.8 349,208.8 338,209" fill="#ffffb2" stroke="#666" stroke-width="0.45" stroke-linejoin="round"/>
<polygon points="376,160.5 378,157 379,155 381,153.5 383,155 386,158 384,160.5 380,161 378,161" fill="#ffffb2" stroke="#666" stroke-width="0.45" stroke-linejoin="round"/>
<polygon points="390,160 401,159 401.8,161.7 406.7,161.7 407.6,162.1 409.4,163 409.4,166.2 409.5,168 409.5,171 407,174 403,173.5 399,173 394,172 392,169.5 391,165" fill="#ffffb2" stroke="#666" stroke-width="0.45" stroke-linejoin="round"/>
<polygon points="406,195 411,194.5 413,194.5 416,194.5 416.5,196 420,203 418,212 404,210 404.5,199 405.5,196.5" fill="#ffffb2" stroke="#666" stroke-width="0.45" stroke-linejoin="round"/>
<polygon points="409.4,163 412.1,160.3 413,158.5 416.6,158.1 422,158.5 423.8,162.1 426.5,164.4 423.8,166.2 422.9,168.9 417.5,168.4 412.1,168 409.9,166.2 409.4,164.4" fill="#feb24c" stroke="#666" stroke-width="0.45" stroke-linejoin="round"/>
<polygon points="406.7,149 414.8,149 414.8,153.6 408.5,153.6 406,152" fill="#feb24c" stroke="#666" stroke-width="0.45" stroke-linejoin="round"/>
<polygon points="404,157.6 408.5,157.8 413,158.5 412.1,160.3 409.4,163 407.6,162.1 405.8,160.8 403,160" fill="#feb24c" stroke="#666" stroke-width="0.45" stroke-linejoin="round"/>
<polygon points="418.4,177.1 421.2,178.1 424,181.3 422.6,183.2 420.7,182.7 419.8,180" fill="#feb24c" stroke="#666" stroke-width="0.45" stroke-linejoin="round"/>
<polygon points="402.5,183.2 405.7,182.7 407.6,185.1 410,186.5 410.4,188.4 413.7,187.9 417.4,188.1 421.2,187.9 423,188 423,191 421.6,190.7 420.2,193 418.8,194.9 416,194.4 412.8,194.4 410.9,194.9 408.6,195.8 407.1,194.9 406.7,191.2 404.8,190.7 403.9,188.8 403.4,186" fill="#feb24c" stroke="#666" stroke-width="0.45" stroke-linejoin="round"/>
</g>
<g clip-path="url(#cland)">
<polyline points="128.5,125.5 103.6,146.8" fill="none" stroke="#666" stroke-width="0.45" stroke-linejoin="round"/>
<polyline points="113,175 172,175 180,177 184,177.5 189,180 192,184 191,189 188,193 191,193 198,190 205,187 210,186 215,184 218,181 222,179 224,180 224,184 226,186" fill="none" stroke="#666" stroke-width="0.45" stroke-linejoin="round"/>
<polyline points="106,217.5 116,219 126,220 132,223 138,225 142,231 145,234" fill="none" stroke="#666" stroke-width="0.45" stroke-linejoin="round"/>
<polyline points="152,262.5 154,258 158,257.5 158.5,254 161,254" fill="none" stroke="#666" stroke-width="0.45" stroke-linejoin="round"/>
<polyline points="155.5,265 158,262 161.7,260.9" fill="none" stroke="#666" stroke-width="0.45" stroke-linejoin="round"/>
<polyline points="160,268 164,265.5 172.6,265" fill="none" stroke="#666" stroke-width="0.45" stroke-linejoin="round"/>
<polyline points="167,274.5 172.6,273" fill="none" stroke="#666" stroke-width="0.45" stroke-linejoin="round"/>
<polyline points="177.3,283.5 178.5,281" fill="none" stroke="#666" stroke-width="0.45" stroke-linejoin="round"/>
<polyline points="177,301.7 182,299.2 188.7,303.3" fill="none" stroke="#666" stroke-width="0.45" stroke-linejoin="round"/>
<polyline points="188.7,303.3 188.7,308.3 182,313.3 177.8,315.8" fill="none" stroke="#666" stroke-width="0.45" stroke-linejoin="round"/>
<polyline points="188.7,303.3 193.7,306.7 200.3,310" fill="none" stroke="#666" stroke-width="0.45" stroke-linejoin="round"/>
<polyline points="200.3,310 202,305 202,300 204.5,298.3 207.8,296.7" fill="none" stroke="#666" stroke-width="0.45" stroke-linejoin="round"/>
<polyline points="200.3,310 197,315 193.7,320 194.5,325 198.7,328.3 203.7,331.7" fill="none" stroke="#666" stroke-width="0.45" stroke-linejoin="round"/>
<polyline points="203.7,331.7 205.3,336.7 205.3,343.3 204.5,348.3 202.8,346.7" fill="none" stroke="#666" stroke-width="0.45" stroke-linejoin="round"/>
<polyline points="203.7,331.7 212,329.2 215.3,333.3 222,336.7 225.3,340 227,345 230.3,346.7 232,351.7" fill="none" stroke="#666" stroke-width="0.45" stroke-linejoin="round"/>
<polyline points="232,351.7 225.3,353.3 222,355 221.2,360" fill="none" stroke="#666" stroke-width="0.45" stroke-linejoin="round"/>
<polyline points="204.5,348.3 205.3,353.3 208.7,360 209.9,363" fill="none" stroke="#666" stroke-width="0.45" stroke-linejoin="round"/>
<polyline points="232,351.7 235.3,358.3 240.3,363.3 241.2,366.7 238.7,371.7" fill="none" stroke="#666" stroke-width="0.45" stroke-linejoin="round"/>
<polyline points="384,153 385,148 384,143 388,137 391,131 395,128 398,126 403,124.5 405,123" fill="none" stroke="#666" stroke-width="0.45" stroke-linejoin="round"/>
<polyline points="403,134.5 404,130 403,128 406,125 408,123.5 412,125.5" fill="none" stroke="#666" stroke-width="0.45" stroke-linejoin="round"/>
<polyline points="348.2,189.5 347.5,192.1 348.5,196 347.5,200 347.1,203.8 346.5,206.5" fill="none" stroke="#666" stroke-width="0.45" stroke-linejoin="round"/>
<polyline points="392.4,169.4 387.6,171.2 387,173 389.4,175.3" fill="none" stroke="#666" stroke-width="0.45" stroke-linejoin="round"/>
<polyline points="389.4,175.3 385.3,177 381.8,177.6 379,178.3" fill="none" stroke="#666" stroke-width="0.45" stroke-linejoin="round"/>
<polyline points="381.8,179.4 386.5,180.6 391.2,180.9 395.9,180.6" fill="none" stroke="#666" stroke-width="0.45" stroke-linejoin="round"/>
<polyline points="383.5,180.6 381.8,179.4" fill="none" stroke="#666" stroke-width="0.45" stroke-linejoin="round"/>
<polyline points="376.5,178.8 375.5,180.5 376,182 377,183" fill="none" stroke="#666" stroke-width="0.45" stroke-linejoin="round"/>
<polyline points="389.4,175.3 393.5,175.9 397.6,174.7 399.4,173.5" fill="none" stroke="#666" stroke-width="0.45" stroke-linejoin="round"/>
<polyline points="397.6,177.6 403,178.2 407.6,176.5 409.4,175.5" fill="none" stroke="#666" stroke-width="0.45" stroke-linejoin="round"/>
<polyline points="395.9,180.6 397,178.8 397.6,177.6 398.5,175.5" fill="none" stroke="#666" stroke-width="0.45" stroke-linejoin="round"/>
<polyline points="395.9,180.6 397,181.5 399.4,183 403,183" fill="none" stroke="#666" stroke-width="0.45" stroke-linejoin="round"/>
<polyline points="391.5,181 393,182.5 395.9,182.2" fill="none" stroke="#666" stroke-width="0.45" stroke-linejoin="round"/>
<polyline points="407.6,176.5 406.5,181.2 404.1,183 403,183.2" fill="none" stroke="#666" stroke-width="0.45" stroke-linejoin="round"/>
<polyline points="396,183 400,183.5 403,184" fill="none" stroke="#666" stroke-width="0.45" stroke-linejoin="round"/>
<polyline points="403,184 403.5,187 404,189.5" fill="none" stroke="#666" stroke-width="0.45" stroke-linejoin="round"/>
<polyline points="398,186.5 401,188.5 404,189.5" fill="none" stroke="#666" stroke-width="0.45" stroke-linejoin="round"/>
<polyline points="404,192 406,193 407,195" fill="none" stroke="#666" stroke-width="0.45" stroke-linejoin="round"/>
<polyline points="461,184 459,179 458,175 460,169 468,168 480,166 482,162 494,160 504,162 512,162 520,166 528,169 536,174 539.9,174.9" fill="none" stroke="#666" stroke-width="0.45" stroke-linejoin="round"/>
<polyline points="539.9,174.9 546,170.3 556.7,169.5 558.2,168 565.9,170.3 573.5,172.6 581.2,174.1 588.8,173.4 596.5,174.1 598,176.4" fill="none" stroke="#666" stroke-width="0.45" stroke-linejoin="round"/>
<polyline points="469,189 474,188 478.8,185.3" fill="none" stroke="#666" stroke-width="0.45" stroke-linejoin="round"/>
<polyline points="511.8,193.5 516,192 522,192 528,191 530.6,191.2" fill="none" stroke="#666" stroke-width="0.45" stroke-linejoin="round"/>
<polyline points="470,205 476,204 482,205 488,207 495.3,211.2" fill="none" stroke="#666" stroke-width="0.45" stroke-linejoin="round"/>
<polyline points="497.6,221.8 500,226.5 502.4,231.2 503.5,236" fill="none" stroke="#666" stroke-width="0.45" stroke-linejoin="round"/>
<polyline points="446,189 452,191 458,193 461,194" fill="none" stroke="#666" stroke-width="0.45" stroke-linejoin="round"/>
<polyline points="452,194.5 456,195 460,194.7" fill="none" stroke="#666" stroke-width="0.45" stroke-linejoin="round"/>
<polyline points="461.5,257.8 470.8,256.7 475.5,254.3 481.3,253.2 487.1,248.5 488.3,243.8" fill="none" stroke="#666" stroke-width="0.45" stroke-linejoin="round"/>
<polyline points="481.3,253.2 483.6,257.8" fill="none" stroke="#666" stroke-width="0.45" stroke-linejoin="round"/>
<polyline points="444.7,217.1 446,221 443,224" fill="none" stroke="#666" stroke-width="0.45" stroke-linejoin="round"/>
<polyline points="538,220 544,224 552,227 560,229.5" fill="none" stroke="#666" stroke-width="0.45" stroke-linejoin="round"/>
<polyline points="528,211 532,213 536,219 543,223.8 550.6,228.4 559.8,230 570.5,226.9 578.1,228.4" fill="none" stroke="#666" stroke-width="0.45" stroke-linejoin="round"/>
<polyline points="560.5,230.5 562,234 564,243.5" fill="none" stroke="#666" stroke-width="0.45" stroke-linejoin="round"/>
<polyline points="562,234 568,233.5 570.7,236" fill="none" stroke="#666" stroke-width="0.45" stroke-linejoin="round"/>
<polyline points="598.7,242.7 597,248 600,252 604,256 606,262 604,266 602.7,264" fill="none" stroke="#666" stroke-width="0.45" stroke-linejoin="round"/>
<polyline points="598.7,265.3 602,267 606,266" fill="none" stroke="#666" stroke-width="0.45" stroke-linejoin="round"/>
<polyline points="592,283 596,284" fill="none" stroke="#666" stroke-width="0.45" stroke-linejoin="round"/>
<polyline points="637.8,190.5 633.2,193.2 629,197.5" fill="none" stroke="#666" stroke-width="0.45" stroke-linejoin="round"/>
<polyline points="349.4,235 349.4,260.9 336.5,262.6" fill="none" stroke="#666" stroke-width="0.45" stroke-linejoin="round"/>
<polyline points="324.7,259.7 330,261 336.5,262.6" fill="none" stroke="#666" stroke-width="0.45" stroke-linejoin="round"/>
<polyline points="370.6,252.6 371.8,262 363.5,264.4 355.3,265.6 350.6,270.3 349.4,276.2" fill="none" stroke="#666" stroke-width="0.45" stroke-linejoin="round"/>
<polyline points="336.5,262.6 336,268 340,272 344.7,275" fill="none" stroke="#666" stroke-width="0.45" stroke-linejoin="round"/>
<polyline points="396.5,242 397.6,250.3 395.3,262 392.9,268" fill="none" stroke="#666" stroke-width="0.45" stroke-linejoin="round"/>
<polyline points="371.8,268 384.7,266.8 392.9,268" fill="none" stroke="#666" stroke-width="0.45" stroke-linejoin="round"/>
<polyline points="392.9,269 388.2,279.7 383.5,286.8 384.1,291.5" fill="none" stroke="#666" stroke-width="0.45" stroke-linejoin="round"/>
<polyline points="370.6,269.1 370.6,276.2 371.8,288" fill="none" stroke="#666" stroke-width="0.45" stroke-linejoin="round"/>
<polyline points="355.3,273.8 363.5,272.6 367.1,270.3 370.6,269.1" fill="none" stroke="#666" stroke-width="0.45" stroke-linejoin="round"/>
<polyline points="367,272 367.5,288" fill="none" stroke="#666" stroke-width="0.45" stroke-linejoin="round"/>
<polyline points="344.7,275 343.5,284.4 345,289" fill="none" stroke="#666" stroke-width="0.45" stroke-linejoin="round"/>
<polyline points="331.8,272.6 337.6,282" fill="none" stroke="#666" stroke-width="0.45" stroke-linejoin="round"/>
<polyline points="344.7,275 355.3,273.8" fill="none" stroke="#666" stroke-width="0.45" stroke-linejoin="round"/>
<polyline points="384.1,291.5 392,292 396,294" fill="none" stroke="#666" stroke-width="0.45" stroke-linejoin="round"/>
<polyline points="390,348 398,349 410,350" fill="none" stroke="#666" stroke-width="0.45" stroke-linejoin="round"/>
<polyline points="384,292 391,292.5" fill="none" stroke="#666" stroke-width="0.45" stroke-linejoin="round"/>
<polyline points="358.8,208.4 360.2,216.2 352.5,221.8 344,227.5 343.3,231" fill="none" stroke="#666" stroke-width="0.45" stroke-linejoin="round"/>
<polyline points="384.2,222.5 385,236 389.2,241.6" fill="none" stroke="#666" stroke-width="0.45" stroke-linejoin="round"/>
<polyline points="408.3,370.7 413,370.7 417,369.3 422.3,365.3 427.7,360.7 431.7,360" fill="none" stroke="#666" stroke-width="0.45" stroke-linejoin="round"/>
<polyline points="420.3,349.3 423.7,354.7 427.7,359.3 431.7,360" fill="none" stroke="#666" stroke-width="0.45" stroke-linejoin="round"/>
<polyline points="435.7,344 437.7,349.3 436.3,356 431.7,360" fill="none" stroke="#666" stroke-width="0.45" stroke-linejoin="round"/>
<polyline points="431.7,360 433,361.3 434.3,365.3 435.5,369.5" fill="none" stroke="#666" stroke-width="0.45" stroke-linejoin="round"/>
<polyline points="432,369.5 434.5,368.8 436,371 433.5,373 432,369.5" fill="none" stroke="#666" stroke-width="0.45" stroke-linejoin="round"/>
<polyline points="425.5,377.3 428.3,380 425.7,382.7 423,380 425.5,377.3" fill="none" stroke="#666" stroke-width="0.45" stroke-linejoin="round"/>
<polyline points="426,167 430,168 434,171 439,173 443,175 444,179 441,181" fill="none" stroke="#666" stroke-width="0.45" stroke-linejoin="round"/>
<polyline points="443.7,267.7 439.7,279.7 441,285 443.7,289" fill="none" stroke="#666" stroke-width="0.45" stroke-linejoin="round"/>
<polyline points="425,289 430.3,291.7 433,293" fill="none" stroke="#666" stroke-width="0.45" stroke-linejoin="round"/>
<polyline points="430.3,293 442.3,291.7 443.7,289" fill="none" stroke="#666" stroke-width="0.45" stroke-linejoin="round"/>
<polyline points="443.7,289 450.3,291.7 457,293" fill="none" stroke="#666" stroke-width="0.45" stroke-linejoin="round"/>
<polyline points="457,293 465,290.3 471.7,282.3" fill="none" stroke="#666" stroke-width="0.45" stroke-linejoin="round"/>
<polyline points="446.3,265 452,266 456,266.5 460,269 463.7,270.3" fill="none" stroke="#666" stroke-width="0.45" stroke-linejoin="round"/>
<polyline points="457,293 457.7,302.3 454.3,313" fill="none" stroke="#666" stroke-width="0.45" stroke-linejoin="round"/>
<polyline points="442.3,293 442.3,305" fill="none" stroke="#666" stroke-width="0.45" stroke-linejoin="round"/>
<polyline points="431.7,305 442.3,305" fill="none" stroke="#666" stroke-width="0.45" stroke-linejoin="round"/>
<polyline points="433,293 431.5,300 431.7,305 430.5,315 430.3,323.7" fill="none" stroke="#666" stroke-width="0.45" stroke-linejoin="round"/>
<polyline points="442.3,305 453,314.3" fill="none" stroke="#666" stroke-width="0.45" stroke-linejoin="round"/>
<polyline points="430.3,323.7 429,325 438.3,329" fill="none" stroke="#666" stroke-width="0.45" stroke-linejoin="round"/>
<polyline points="438.3,329 440,336 441,342" fill="none" stroke="#666" stroke-width="0.45" stroke-linejoin="round"/>
<polyline points="440.5,327.5 442.3,331.7" fill="none" stroke="#666" stroke-width="0.45" stroke-linejoin="round"/>
<polyline points="442.3,331.7 454.3,330.3" fill="none" stroke="#666" stroke-width="0.45" stroke-linejoin="round"/>
<polyline points="430.3,323.7 429,327.7 427.7,334.3 421,333 415.7,331.7 413,329 413,322.3 405,321 401,318.3 393,317.7" fill="none" stroke="#666" stroke-width="0.45" stroke-linejoin="round"/>
<polyline points="413,329 413,338 414,344 411,350" fill="none" stroke="#666" stroke-width="0.45" stroke-linejoin="round"/>
<polyline points="358.5,188.6 363.5,190.2 368.3,191" fill="none" stroke="#666" stroke-width="0.45" stroke-linejoin="round"/>
</g>
<polygon points="353,207 349.4,207.9 345.9,206.2 344.7,201.5 343.5,196.8 342.9,192.1 343.5,189.7 349.4,189.1 355.3,190.3 360,188.5 361.2,185 360,180.3 357.6,178.5 354.1,176.2 358.8,175.6 363.5,173.2 367,171 368,168 370,165.5 372,163.5 375,162 377,160 378.5,157 379,155 381,154 382.5,156 382,159 385,160.5 388,161 391,162 397,161 401,160.5 403,160 403.5,157 403,154 404.5,153.5 405.5,155.5 407,155 407,152.5 406,150.2 407,149.5 411,149.3 416,149 416,147.8 410,147.8 406,148 403,147 401.5,144 402,141 404,138 406,135 403,134.5 401,136 398,139 395,143 394.5,147 395,151 394,154 393,157 391,159 388,159 385,156 384,153 382,150.5 379,152.5 375,152 373,149 372.5,144 375,141.5 379,139 383,135 387,131 391,128 395,126 400,124.5 405,123 410,123 413,124.5 417.6,125.9 423.5,127.1 429.4,128.8 432.9,130.6 431.8,132.9 428.2,134.7 425.3,133.5 421.2,132.4 421.8,134.1 424.7,135.9 427.6,137.6 430,135.3 432.9,134.7 435.3,132.9 437.6,130.6 436.5,128.2 438.8,128.8 441.2,130 441.8,131.8 444.7,130 449.4,128.8 454.1,127.6 458.8,126.5 463.5,125.3 465.9,127.1 470.6,127.6 475.3,128.2 477.6,127.6 475.3,124.7 472.9,120.6 475.3,118.8 480,120 482.4,122.4 484.7,125.9 487.1,130.6 488.2,132.9 487.1,127.1 483.5,120.6 485.9,120 489.4,118.8 492.9,117.6 494.6,116.4 497.6,114.1 505.3,112.6 512.9,111.1 517.5,109.5 522.1,110.3 529.8,111.1 535.9,111.8 538.9,114.1 535.9,115.6 543.5,117.2 551.2,117.9 557.3,117.9 561.9,117.9 569.5,120.2 577.2,122.5 581.7,121 587.9,120.2 597,120.2 606.2,121.8 610,123 620,123.5 627,124.5 632,126 640,126.5 646,125.5 649,127.5 652,126 658,126 664,127.5 670,131 675,135 678,136.5 680,139 685.5,142 680,142.5 677,145 676,147.5 672,146.5 668,148 665,149 667,152 670,155 673,158 675,162 675.5,166 674.5,169.5 671,167 667,163 663,159 660,156 658.5,154 659.5,150 660,146 658,142.5 657,144 654,145 652,144 649,145 648,147 650,150 645,150.5 640,149.5 635,150 628,150.5 626,155 624.5,160.5 630,162 635,163 639,164 642,168 644,172 645.5,176 645.5,181 645.5,183 642.5,187.5 638,189.8 637.3,192 635,195 634.3,198 635.8,201 636.5,202.5 641,205.5 643.3,208.5 642.5,211.5 639.5,213 637.3,211.5 635.8,207.8 635,204.8 632.8,203.3 630.5,201 629,198.8 628.3,197.3 626,198.5 623,200 622,198 620,196.5 617.5,199 615,201 618,204 621,205 623,204.5 626,205.5 625,207 623,209 622.5,211 624,213 626,215 628,217 630,219 631.5,222 632,225 633.5,226 633,230 631.5,234 630,238 628,241 625,243 622,244.5 619,246 616,246.5 614,247 611,248 610,249 607,252 606,254 610,260 613,266 612,272 608,276 604,279 602,276 600,274 598,270 594,268 591,266 590,270 589.6,276 592,280 596,286 599,291 601,296 602,298 599,298 596,294 592,288 589.6,282 588,278 587,272 586,268 584,270 580,266 579,261 576,255 573,249 572,248 570,246 568,244 565,246 562,248 559,251 556,254 552,258 547,261 546,265 546,271 545,276 542,281 540,279 537,274 534,268 531,262 529,256 528,252 527,248 523,248 519,245 517,240 516,237 512,237 509.3,236.8 500,236.2 491.8,236.8 488.3,234.5 483.6,233.3 479,231.6 474.3,227.5 469.6,224 468.5,225.2 472,229.8 476.6,234.5 478,236 479,238.5 481.3,240.3 484.8,239.2 487.1,236.8 488.9,234.5 489.5,239.2 491.8,241.5 497.6,244.4 495.3,248.5 493,252 488.3,255.5 483.6,257.8 479,261.3 474.3,264.8 467.3,267.1 462.7,269.4 461.5,267.1 460.3,259 456.8,252 453.3,245 449.8,239.2 446.3,233.3 441.7,227.5 440.7,226.2 440,227.8 439,229.2 438.2,227 436.5,226 437,228.7 440.5,233.3 444,238 447.5,245 449.8,253.2 453.3,259 456.8,263.7 460.3,268.3 462.7,271.8 468.5,273 474.3,273 480.1,271.8 479,276 474,284 468,294 462,304 456,312 452,320 453,324 455,332 456,338 454,346 448,352 442,358 442,364 440,372 434,380 426,388 418,391 408,393 403,391 402,384 399,376 396,366 393,356 390,346 391,336 392,326 391,318 388,312 385,306 384,300 382,294 376,291 368,289 360,288 356,290 348,288 342,286 336,282 332,278 328,274 326,270 324,266 325,260 326,254 324,248 325,246 328,238 332,233 334,232 336,229 340,225 344,218 348,212 352,210 360,208 370,207 380,206 382,206 386,207 385,212 387,218 392,218 400,219 406,222 410,218 418,218 428,219 436,219 440,220 441,217 441.5,214 442,211 442,208 440,206.5 435,207 430,206 427,207 423,205 420,202 419.5,199 421,196.5 418,195.5 416,196 413,197 412,200 414,203 412,207 410,205 408,202 406.5,199 406,197 405,196 403,193 400,189.5 396,186 392,184 389,184 392,189 396,193 400,196 401.2,197.4 402,199 400,199.1 397.6,199.1 397.6,202.6 395.3,203.8 395.3,200.3 391.8,196.8 387.1,193.2 383.5,189.7 380.6,187.4 377.6,185 376.5,188.5 371.8,189.1 368.2,190.9 367.1,194.4 363.5,197.9 361.2,202.6 357.6,206.2" fill="none" stroke="#6b6b6b" stroke-width="0.45" stroke-linejoin="round"/>
<polygon points="422,188 425,183 428,182 432,185 435,184 435,181 439,180 441,182 439,184 441,187 445,189 449,190 451,193 449,195 445,195 440,193.5 435,193 431,194 427,195 423,194 421.5,191" fill="#ffffff" stroke="#6b6b6b" stroke-width="0.45" stroke-linejoin="round"/>
<polygon points="460.4,185.4 463.6,182.2 467.8,181.2 472.1,182.2 471,184.4 468.9,186.5 466.8,189.7 468.9,193.9 472.1,197.1 474.2,193.9 476.3,195 475.3,198.1 477.4,201.3 479,205.5 475.3,206.6 471,205.5 468.9,202.4 467.8,199.2 465.7,196 463.6,191.8 461.5,188.6 459.9,186.5" fill="#ffffff" stroke="#6b6b6b" stroke-width="0.45" stroke-linejoin="round"/>
<polygon points="351.8,152.1 355.3,151.5 356.5,154.4 358.8,160.3 362.4,163.8 365.3,166.2 364.7,169.7 361.2,170.3 356.5,171.5 351.8,172.6 354.1,170.3 355.3,167.4 354.1,164.4 352.9,161.5 353.5,156.8 351.8,154.4" fill="#ffffb2" stroke="#6b6b6b" stroke-width="0.45" stroke-linejoin="round"/>
<polygon points="344.7,162.6 348.2,159.7 351.8,161.5 351.2,165 347.1,167.9 343.5,167.4" fill="#ffffb2" stroke="#6b6b6b" stroke-width="0.45" stroke-linejoin="round"/>
<polygon points="390.6,203.2 395.3,203.8 394.1,206.2 390.6,205" fill="#fed976" stroke="#6b6b6b" stroke-width="0.45" stroke-linejoin="round"/>
<polygon points="380.8,195.5 383.5,195.2 383.8,200.5 381,201" fill="#fed976" stroke="#6b6b6b" stroke-width="0.45" stroke-linejoin="round"/>
<polygon points="381.6,191 383.2,190.5 383,194.2 381.8,194" fill="#ffffb2" stroke="#6b6b6b" stroke-width="0.45" stroke-linejoin="round"/>
<polygon points="433,211 437,210 438,211.5 434,212.5" fill="#ffffb2" stroke="#6b6b6b" stroke-width="0.45" stroke-linejoin="round"/>
<polygon points="414,210.5 419,210.2 419,211.3 414,211.6" fill="#ffffb2" stroke="#6b6b6b" stroke-width="0.45" stroke-linejoin="round"/>
<polygon points="655.6,184.5 659,185.6 662,187.5 665,187.1 666.9,189.4 665,191.3 662.8,192.4 660.5,193.5 659,192.8 657.5,191.3 656.8,189 656,186.8" fill="#ffffb2" stroke="#6b6b6b" stroke-width="0.45" stroke-linejoin="round"/>
<polygon points="659,194.6 661.3,195 663.5,197.3 665,201 666.5,204.8 668,208.5 667.3,210.8 664.3,212.3 661.3,213 659.8,214.5 657.5,215.3 655.3,213 652.3,214.5 650,215.3 647.8,214.5 648.5,212.3 651.5,210.8 656,209.3 658.3,207.8 657.9,205.5 660.5,204 661.3,201 660.5,198 659.8,195.8" fill="#ffffb2" stroke="#6b6b6b" stroke-width="0.45" stroke-linejoin="round"/>
<polygon points="647,215.6 650,215.6 652.3,217.5 651.5,220.5 650,221.3 648.5,219 646.6,216.8" fill="#ffffb2" stroke="#6b6b6b" stroke-width="0.45" stroke-linejoin="round"/>
<polygon points="639.5,162.5 643,166 648,170 652,173 654,175 656,180 657,182 655,182.5 653,179 650,176 647,172 643,169 640,164.5" fill="#fd8d3c" stroke="#6b6b6b" stroke-width="0.45" stroke-linejoin="round"/>
<polygon points="653,215.6 656.8,215.6 656,216.8 653.8,216.8" fill="#ffffb2" stroke="#6b6b6b" stroke-width="0.45" stroke-linejoin="round"/>
<polygon points="637.5,254.8 640.9,255.5 641.6,261 640.9,265 642.2,267.8 640.2,268.5 638.8,265 638.1,261 636.8,256.8" fill="#fed976" stroke="#6b6b6b" stroke-width="0.45" stroke-linejoin="round"/>
<polygon points="642,269 648,270 651.8,276 648,277 643,273" fill="#fed976" stroke="#6b6b6b" stroke-width="0.45" stroke-linejoin="round"/>
<polygon points="643.6,281.4 649.1,277.3 652.5,279.4 653.8,285.5 651.8,287.6 649.1,284.2 646.3,284.9 644.3,284.2" fill="#fed976" stroke="#6b6b6b" stroke-width="0.45" stroke-linejoin="round"/>
<polygon points="637.5,273.2 638.2,273.8 633.3,280.5 632.5,280" fill="#fed976" stroke="#6b6b6b" stroke-width="0.45" stroke-linejoin="round"/>
<polygon points="582.8,289 587.6,291 593,296.5 597.1,302 602.6,306 606.7,310 607.4,317 604,317 599.9,312.9 594.4,307.4 590.3,302 586.2,295.1 583.5,291" fill="#fed976" stroke="#6b6b6b" stroke-width="0.45" stroke-linejoin="round"/>
<polygon points="606,319 613.5,320.4 620.4,322.4 627.9,324.5 624.5,325.2 616.3,323.8 608,321.8" fill="#fed976" stroke="#6b6b6b" stroke-width="0.45" stroke-linejoin="round"/>
<polygon points="614.2,298.5 617.6,297.2 623.1,295.1 626.5,292.4 629.3,289.6 632,285.5 634,284.9 636.8,288.3 637.5,290.3 635.4,292.4 636.1,299.2 634,303.3 632,307.4 629.9,311.5 624.5,312.9 619,310.1 616.3,307.4 614.9,301.9" fill="#fed976" stroke="#6b6b6b" stroke-width="0.45" stroke-linejoin="round"/>
<polygon points="638.1,301.9 642.2,299.9 647.7,299.2 651.8,298.5 649.1,300.6 645,301.9 642.2,304 645,306 642.2,307.4 643.6,311.5 646.3,317 643.6,317 640.9,312.9 639.5,308.8 638.1,306" fill="#fed976" stroke="#6b6b6b" stroke-width="0.45" stroke-linejoin="round"/>
<polygon points="664.2,305.2 668.5,303.8 672.4,305.6 672.7,308.4 674.1,311.2 676.2,309.1 679,307.7 681.9,307.3 684.7,308.4 688.2,309.5 691.8,311.2 696,312.6 698.8,315.5 702.7,319.3 700.9,321.8 703.8,325.3 706.6,328.2 708.7,329.9 705.2,329.6 702.3,328.2 699.5,325.3 696.7,323.2 692.5,324.6 689.6,326.1 686.8,326.1 684.7,323.9 681.9,324.6 679,323.9 681.2,321.1 680.5,317.6 676.9,314.8 672.7,312.6 669.9,311.9 668.5,309.8 667.1,307.3 664.9,306.3" fill="#fed976" stroke="#6b6b6b" stroke-width="0.45" stroke-linejoin="round"/>
<polygon points="646,328.5 655,325 655.5,326.5 647,330" fill="#fed976" stroke="#6b6b6b" stroke-width="0.45" stroke-linejoin="round"/>
<polygon points="631,324.5 637,324 645,324.5 645,326 637,326 631,326" fill="#fed976" stroke="#6b6b6b" stroke-width="0.45" stroke-linejoin="round"/>
<polygon points="652,312 659,311.5 659,313 652,313.5" fill="#fed976" stroke="#6b6b6b" stroke-width="0.45" stroke-linejoin="round"/>
<polygon points="704.5,317.6 708,316.2 712.2,314.1 715,312.6 715.8,314.1 713.6,316.2 709.4,318.3 705.9,318.6" fill="#fed976" stroke="#6b6b6b" stroke-width="0.45" stroke-linejoin="round"/>
<polygon points="710.8,309.5 713,310.5 715,312 714.5,313 712.5,311.5 710.5,310.3" fill="#fed976" stroke="#6b6b6b" stroke-width="0.45" stroke-linejoin="round"/>
<polygon points="671.3,317.6 673.4,318 673,320.4 671.5,320" fill="#fed976" stroke="#6b6b6b" stroke-width="0.45" stroke-linejoin="round"/>
<polygon points="720,318 723,319.5 722.5,320.5 719.5,319" fill="#e07a3e" stroke="#6b6b6b" stroke-width="0.45" stroke-linejoin="round"/>
<polygon points="724,321 728,323 727.5,324 723.5,322" fill="#e07a3e" stroke="#6b6b6b" stroke-width="0.45" stroke-linejoin="round"/>
<polygon points="729,325 733,327.5 732.5,328.5 728.5,326" fill="#e07a3e" stroke="#6b6b6b" stroke-width="0.45" stroke-linejoin="round"/>
<polygon points="743,341 744.5,342 744.5,346 743,345" fill="#f0a050" stroke="#6b6b6b" stroke-width="0.45" stroke-linejoin="round"/>
<polygon points="734,355 738,358 737.5,359 733.5,356" fill="url(#hatch)" stroke="#6b6b6b" stroke-width="0.45" stroke-linejoin="round"/>
<polygon points="635,237 636.6,240 635.6,245 633.6,241" fill="#fed976" stroke="#6b6b6b" stroke-width="0.45" stroke-linejoin="round"/>
<polygon points="447.1,121.2 448.2,117.6 451.8,114.1 457.6,112.4 463.5,111.2 467.1,111.5 462.4,112.9 456.5,114.1 452.9,116.5 451.8,120 456.5,122.9 454.1,123.5 449.4,122.9" fill="#fd8d3c" stroke="#6b6b6b" stroke-width="0.45" stroke-linejoin="round"/>
<polygon points="379,105 390,103.5 402,104 398,106 392,107 388,110 384,108" fill="#fed976" stroke="#6b6b6b" stroke-width="0.45" stroke-linejoin="round"/>
<polygon points="493.1,103.4 499.2,103.4 506.8,105.7 503.8,106.5 496.1,105.7" fill="#fd8d3c" stroke="#6b6b6b" stroke-width="0.45" stroke-linejoin="round"/>
<polygon points="509.9,106.5 517.5,107.2 514.5,108 510.6,108" fill="#fd8d3c" stroke="#6b6b6b" stroke-width="0.45" stroke-linejoin="round"/>
<polygon points="574.1,112.6 584.8,113.3 587.9,114.9 580.2,114.9 575.6,114.1" fill="#fd8d3c" stroke="#6b6b6b" stroke-width="0.45" stroke-linejoin="round"/>
<polygon points="589.4,114.1 595.5,114.9 594,115.5 589.5,115" fill="#fd8d3c" stroke="#6b6b6b" stroke-width="0.45" stroke-linejoin="round"/>
<polygon points="586.3,117.2 589.4,117.6 588.5,118.3 586,118" fill="#fd8d3c" stroke="#6b6b6b" stroke-width="0.45" stroke-linejoin="round"/>
<polygon points="426.6,103 435.8,103.5 432,105 427,104.6" fill="#fd8d3c" stroke="#6b6b6b" stroke-width="0.45" stroke-linejoin="round"/>
<polygon points="655,121.5 659,122.5 657,123.5" fill="#fd8d3c" stroke="#6b6b6b" stroke-width="0.45" stroke-linejoin="round"/>
<polygon points="609.5,251 613,250.5 614,253 611,255.5" fill="#feb24c" stroke="#6b6b6b" stroke-width="0.45" stroke-linejoin="round"/>
<polygon points="546,278 549,279 551,284 548,287 546,284" fill="#feb24c" stroke="#6b6b6b" stroke-width="0.45" stroke-linejoin="round"/>
<polygon points="476.3,334 478.3,338 478.3,342.7 475.7,352 471.7,361.3 467.7,368 463.7,369.3 461,364 461.7,358.7 463.7,350.7 465,345.3 470.3,342.7 474.3,338.7" fill="#feb24c" stroke="#6b6b6b" stroke-width="0.45" stroke-linejoin="round"/>
<polyline points="687.9,309.6 687.6,326" fill="none" stroke="#666" stroke-width="0.45" stroke-linejoin="round"/>
<polyline points="615.5,300.5 620,299.3 626,296.5 630,293 633.5,291.5 636.8,290.6" fill="none" stroke="#666" stroke-width="0.45" stroke-linejoin="round"/>
<polygon points="614.1,391.5 618.4,386.6 617.6,375.3 616.9,370.4 619.1,361.2 625.4,357.6 632.5,354.8 638.1,353.4 641,348 646,342.5 654,339 660,336 666,333 672,334 676,336 673,341 678,345 683,348 686,342 688,336 690,331 693,338 695,345 698,352 702,358 705,366 705.9,372.5 704.5,379.5 700.2,386.6 696,392.2 690.4,399.3 684.7,402.1 677.7,404.2 672,403.5 667.8,402.8 664.9,399.3 662.8,393.6 659.3,390.8 656.5,387.3 652.2,385.9 645.2,385.2 638.1,386.6 632.5,389.4 625.4,390.8 619.8,392.9" fill="#ffffb2" stroke="#6b6b6b" stroke-width="0.45" stroke-linejoin="round"/>
<polygon points="667.8,410.6 676.2,409.2 673.4,413.4 669.2,416.2" fill="#ffffb2" stroke="#6b6b6b" stroke-width="0.45" stroke-linejoin="round"/>
<polygon points="739.6,392.9 741.3,395.4 741.7,399.2 746.7,401.3 744.2,403.3 740,406.7 735,410 732.5,411.7 734.2,407.5 733.3,405 736.7,403.3 739.2,400.8 739.6,397.5" fill="#fed976" stroke="#6b6b6b" stroke-width="0.45" stroke-linejoin="round"/>
<polygon points="729.2,408.75 730.8,410.8 726.7,414.2 723.3,416.7 719.2,417.5 715,420.8 709.2,424.2 705.4,422.9 708.3,420.8 715,417.5 721.7,414.2 726.7,410.8" fill="#fed976" stroke="#6b6b6b" stroke-width="0.45" stroke-linejoin="round"/>
<polygon points="766.5,348.5 769,347.5 769.5,349.5 767,350.5" fill="#e8964a" stroke="#6b6b6b" stroke-width="0.45" stroke-linejoin="round"/>
<polygon points="770.5,346.5 774,345 774.3,346 771,347.5" fill="#e8964a" stroke="#6b6b6b" stroke-width="0.45" stroke-linejoin="round"/>
<circle cx="222.25" cy="256.5" r="0.55" fill="#d8b060" stroke="#8a7a5a" stroke-width="0.3"/>
<circle cx="222.5" cy="258.5" r="0.55" fill="#d8b060" stroke="#8a7a5a" stroke-width="0.3"/>
<circle cx="222.5" cy="262.5" r="0.55" fill="#d8b060" stroke="#8a7a5a" stroke-width="0.3"/>
<circle cx="223.5" cy="266.5" r="0.55" fill="#d8b060" stroke="#8a7a5a" stroke-width="0.3"/>
<circle cx="222.5" cy="268.25" r="0.55" fill="#d8b060" stroke="#8a7a5a" stroke-width="0.3"/>
<circle cx="226.5" cy="268.5" r="0.55" fill="#d8b060" stroke="#8a7a5a" stroke-width="0.3"/>
<circle cx="221.5" cy="271.25" r="0.55" fill="#d8b060" stroke="#8a7a5a" stroke-width="0.3"/>
<circle cx="307" cy="259" r="0.55" fill="#d8b060" stroke="#8a7a5a" stroke-width="0.3"/>
<circle cx="309" cy="261.5" r="0.55" fill="#d8b060" stroke="#8a7a5a" stroke-width="0.3"/>
<circle cx="306.5" cy="262" r="0.55" fill="#d8b060" stroke="#8a7a5a" stroke-width="0.3"/>
</g>
<g id="legend">
<rect x="283.1" y="517" width="58.5" height="11.3" fill="#ffffb2" stroke="#999" stroke-width="0.5"/>
<rect x="341.6" y="517" width="58.5" height="11.3" fill="#fed976" stroke="#999" stroke-width="0.5"/>
<rect x="400.1" y="517" width="58.799999999999955" height="11.3" fill="#feb24c" stroke="#999" stroke-width="0.5"/>
<rect x="458.9" y="517" width="58.700000000000045" height="11.3" fill="#fd8d3c" stroke="#999" stroke-width="0.5"/>
<rect x="517.6" y="517" width="58.39999999999998" height="11.3" fill="#f03b20" stroke="#999" stroke-width="0.5"/>
<rect x="576.0" y="517" width="52.5" height="11.3" fill="#bd0026" stroke="#999" stroke-width="0.5"/>
<polygon points="628.5,517 635.5,522.65 628.5,528.3" fill="#bd0026"/>
<rect x="215.5" y="517" width="48" height="11.3" fill="url(#hatch2)" stroke="#c8c8c8" stroke-width="0.8"/>
<line x1="239.5" y1="514" x2="239.5" y2="517" stroke="#aaa" stroke-width="0.8"/>
<line x1="283.1" y1="500" x2="283.1" y2="517" stroke="#aaa" stroke-width="0.8"/>
<text x="283.1" y="495.6" text-anchor="middle" class="lg">0.4%</text>
<line x1="341.6" y1="514" x2="341.6" y2="517" stroke="#aaa" stroke-width="0.8"/>
<text x="341.6" y="509.9" text-anchor="middle" class="lg">0.6%</text>
<line x1="400.1" y1="500" x2="400.1" y2="517" stroke="#aaa" stroke-width="0.8"/>
<text x="400.1" y="495.6" text-anchor="middle" class="lg">0.8%</text>
<line x1="458.9" y1="514" x2="458.9" y2="517" stroke="#aaa" stroke-width="0.8"/>
<text x="458.9" y="509.9" text-anchor="middle" class="lg">1%</text>
<line x1="517.6" y1="500" x2="517.6" y2="517" stroke="#aaa" stroke-width="0.8"/>
<text x="517.6" y="495.6" text-anchor="middle" class="lg">1.2%</text>
<line x1="576.0" y1="514" x2="576.0" y2="517" stroke="#aaa" stroke-width="0.8"/>
<text x="576.0" y="509.9" text-anchor="middle" class="lg">1.4%</text>
<text x="239.3" y="509.9" text-anchor="middle" class="lg">No data</text>
</g>
<text x="17" y="560.6" class="ft" textLength="298" lengthAdjust="spacingAndGlyphs"><tspan class="b">Data source:</tspan> IHME, Global Burden of Disease (2024)</text>
<text x="17" y="580.4" class="ft" textLength="546.4" lengthAdjust="spacingAndGlyphs"><tspan class="b">Note:</tspan> To allow for comparisons between countries and over time, this metric is age-standardized.</text>
<text x="825.3" y="560.6" class="ft" text-anchor="end" textLength="300.6" lengthAdjust="spacingAndGlyphs">OurWorldinData.org/cardiovascular-diseases | CC BY</text>
</svg>
</body></html>
